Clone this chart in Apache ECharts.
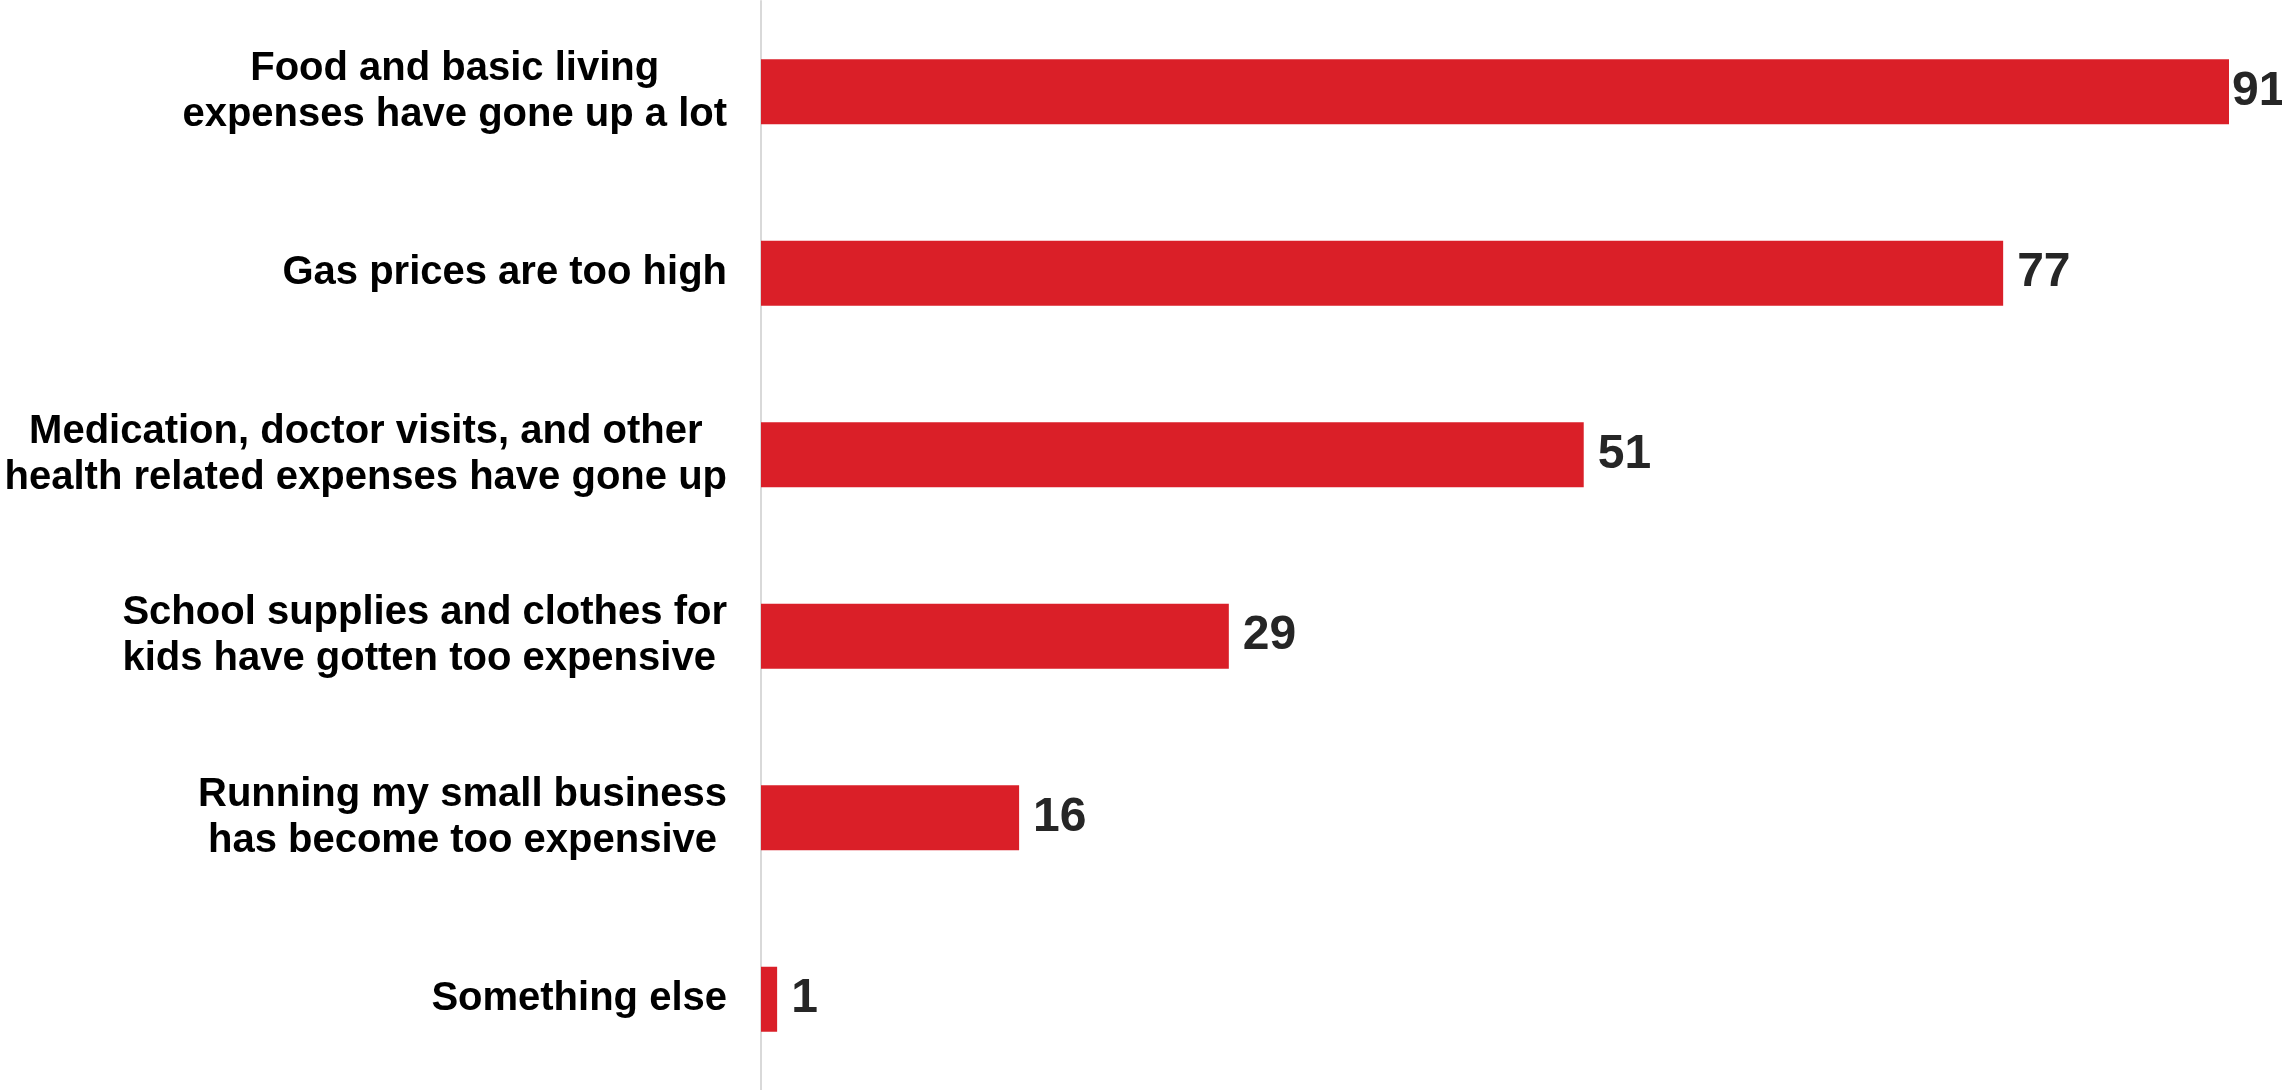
<!DOCTYPE html>
<html>
<head>
<meta charset="utf-8">
<script src="https://cdn.jsdelivr.net/npm/echarts@6/dist/echarts.min.js"></script>
<style>
html,body{margin:0;padding:0;background:#fff;}
#chart{width:2282px;height:1090px;}
</style>
</head>
<body>
<div id="chart"></div>
<script>
const categories = [
  "Food and basic living\nexpenses have gone up a lot",
  "Gas prices are too high",
  "Medication, doctor visits, and other\nhealth related expenses have gone up",
  "School supplies and clothes for\nkids have gotten too expensive ",
  "Running my small business\nhas become too expensive",
  "Something else"
];
const values = [91, 77, 51, 29, 16, 1];
const labelDistances = [3, 14, 14, 14, 14, 14];

const FONT = 'Liberation Sans, Arial, sans-serif';
const chart = echarts.init(document.getElementById('chart'), null, {renderer: 'canvas'});
chart.setOption({
  animation: false,
  backgroundColor: '#ffffff',
  grid: {left: 761, right: 53, top: 1, bottom: -3, containLabel: false},
  xAxis: {
    type: 'value', min: 0, max: 91, show: false
  },
  yAxis: {
    type: 'category',
    inverse: true,
    data: categories,
    axisLine: {show: true, lineStyle: {color: '#d9d9d9', width: 2}},
    axisTick: {show: false},
    splitLine: {show: false},
    axisLabel: {
      margin: 34,
      fontSize: 40,
      fontWeight: 'bold',
      fontFamily: FONT,
      color: '#000000',
      lineHeight: 46,
      align: 'right',
      formatter: v => v.split('\n').map(l => '{c|' + l + '}').join('\n'),
      rich: {
        c: {
          align: 'center',
          fontSize: 40,
          fontWeight: 'bold',
          fontFamily: FONT,
          color: '#000000',
          lineHeight: 46
        }
      }
    }
  },
  series: [{
    type: 'bar',
    barWidth: 65,
    itemStyle: {color: '#da1f28'},
    z: 1,
    data: values.map((v, i) => ({
      value: v,
      label: {distance: labelDistances[i]}
    })),
    label: {
      show: true,
      position: 'right',
      fontSize: 48,
      fontWeight: 'bold',
      fontFamily: FONT,
      color: '#262626'
    }
  }]
});
</script>
</body>
</html>
